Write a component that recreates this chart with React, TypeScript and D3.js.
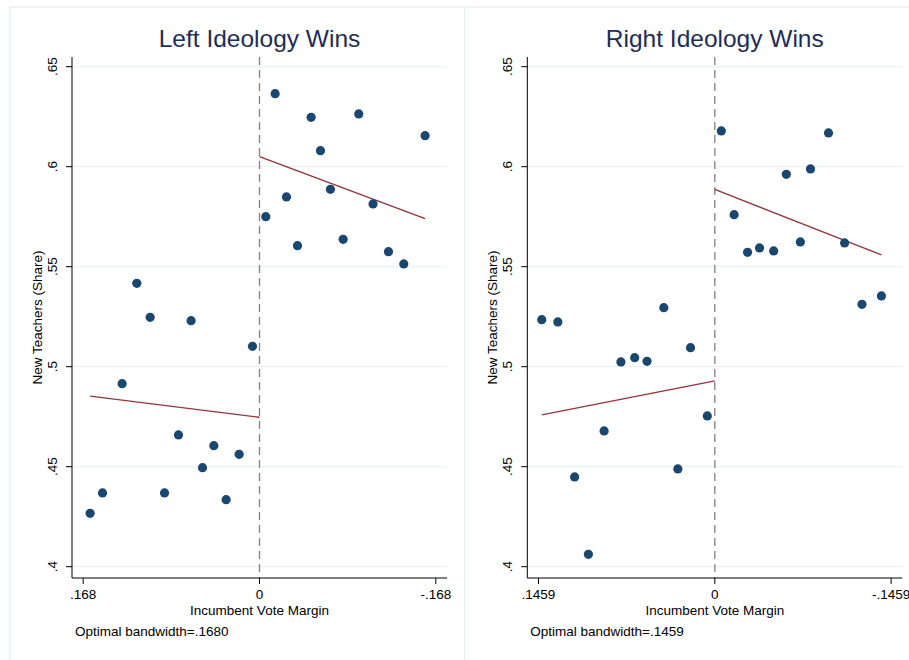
import React from "react";
import * as d3 from "d3";

// ---------- Data ----------
const yTicks = [0.4, 0.45, 0.5, 0.55, 0.6, 0.65];
const yTickLabels = [".4", ".45", ".5", ".55", ".6", ".65"];

const leftTitle = "Left Ideology Wins";
const leftBandwidth = 0.168;
const leftXTickLabels = [".168", "0", "-.168"];
const leftBandwidthNote = "Optimal bandwidth=.1680";
const leftX = [
  0.1614, 0.1496, 0.1309, 0.1169, 0.1042, 0.0905, 0.0772, 0.0652, 0.0543, 0.0435, 0.0318, 0.0194, 0.0067,
  -0.006, -0.0149, -0.0257, -0.0362, -0.0492, -0.0581, -0.0676, -0.0797, -0.0946, -0.1082, -0.1229, -0.1375, -0.1578,
];
const leftY = [
  0.4267, 0.4369, 0.4915, 0.5417, 0.5247, 0.4369, 0.4659, 0.523, 0.4495, 0.4605, 0.4335, 0.4562, 0.5102,
  0.575, 0.6365, 0.5849, 0.5605, 0.6247, 0.608, 0.5887, 0.5637, 0.6264, 0.5814, 0.5575, 0.5514, 0.6155,
];
const leftFitBelowX = [0.1614, 0];
const leftFitBelowY = [0.4853, 0.4747];
const leftFitAboveX = [0, -0.1578];
const leftFitAboveY = [0.605, 0.574];

const rightTitle = "Right Ideology Wins";
const rightBandwidth = 0.1459;
const rightXTickLabels = [".1459", "0", "-.1459"];
const rightBandwidthNote = "Optimal bandwidth=.1459";
const rightX = [
  0.1432, 0.1299, 0.116, 0.1046, 0.0916, 0.0777, 0.0663, 0.0561, 0.0422, 0.0306, 0.0201, 0.0062,
  -0.0054, -0.016, -0.0271, -0.037, -0.0487, -0.0592, -0.0708, -0.0792, -0.0941, -0.1074, -0.1218, -0.1379,
];
const rightY = [
  0.5235, 0.5224, 0.4449, 0.4062, 0.4679, 0.5024, 0.5045, 0.5027, 0.5295, 0.4489, 0.5095, 0.4754,
  0.6179, 0.576, 0.5572, 0.5594, 0.5579, 0.5962, 0.5624, 0.5989, 0.6169, 0.5619, 0.5312, 0.5354,
];
const rightFitBelowX = [0.1432, 0];
const rightFitBelowY = [0.4759, 0.4929];
const rightFitAboveX = [0, -0.1379];
const rightFitAboveY = [0.5887, 0.5559];

const yTitle = "New Teachers (Share)";
const xTitle = "Incumbent Vote Margin";

// ---------- Styles ----------
const FONT = "'Liberation Sans', Arial, sans-serif";
const TITLE_COLOR = "#1e2d55";
const DOT_COLOR = "#1a476f";
const LINE_COLOR = "#90353b";
const GRID_COLOR = "#eaf2f3";
const FRAME_COLOR = "#e4ecef";

type PanelProps = {
  offsetX: number;
  title: string;
  bw: number;
  xTickLabels: string[];
  note: string;
  xs: number[];
  ys: number[];
  fb: [number[], number[]];
  fa: [number[], number[]];
};

function Panel({ offsetX, title, bw, xTickLabels, note, xs, ys, fb, fa }: PanelProps) {
  const axL = 72, axR = 447, axTop = 57, axBot = 578;
  const tickPx = 176.3;
  const half = (bw * (axR - axL)) / 2 / tickPx;
  const x = d3.scaleLinear().domain([half, -half]).range([axL, axR]);
  const y = d3.scaleLinear().domain([0.4, 0.65]).range([566.7, 66.7]);
  const xTicks = [bw, 0, -bw];
  const line = d3
    .line<[number, number]>()
    .x((d) => x(d[0]))
    .y((d) => y(d[1]));
  const midX = (axL + axR) / 2;
  const midY = (axTop + axBot) / 2;
  return (
    <g transform={`translate(${offsetX},0)`} fontFamily={FONT}>
      <text x={x(0)} y={46.5} textAnchor="middle" fontSize={24.5} fill={TITLE_COLOR}>
        {title}
      </text>
      {yTicks.map((t, i) => (
        <g key={i}>
          <line x1={axL} x2={axR} y1={y(t)} y2={y(t)} stroke={GRID_COLOR} strokeWidth={1.2} />
          <line x1={axL - 6} x2={axL} y1={y(t)} y2={y(t)} stroke="#000" strokeWidth={1} />
          <text
            transform={`translate(${axL - 15},${y(t)}) rotate(-90)`}
            textAnchor="middle"
            fontSize={13.5}
            fill="#000"
          >
            {yTickLabels[i]}
          </text>
        </g>
      ))}
      <line
        x1={x(0)}
        x2={x(0)}
        y1={axTop}
        y2={axBot}
        stroke="#808080"
        strokeWidth={1.3}
        strokeDasharray="8,5"
      />
      <line x1={axL} x2={axL} y1={axTop} y2={axBot} stroke="#000" strokeWidth={1} />
      <line x1={axL} x2={axR} y1={axBot} y2={axBot} stroke="#000" strokeWidth={1} />
      {xTicks.map((t, i) => (
        <g key={i}>
          <line x1={x(t)} x2={x(t)} y1={axBot} y2={axBot + 6} stroke="#000" strokeWidth={1} />
          <text x={x(t)} y={599} textAnchor="middle" fontSize={13.5} fill="#000">
            {xTickLabels[i]}
          </text>
        </g>
      ))}
      <text x={midX} y={615} textAnchor="middle" fontSize={13.5} fill="#000">
        {xTitle}
      </text>
      <text x={axL + 3} y={636} fontSize={13.5} fill="#000">
        {note}
      </text>
      <text
        transform={`translate(${axL - 30},${midY}) rotate(-90)`}
        textAnchor="middle"
        fontSize={13.5}
        fill="#000"
      >
        {yTitle}
      </text>
      <path
        d={line(fb[0].map((v, i) => [v, fb[1][i]] as [number, number])) || ""}
        fill="none"
        stroke={LINE_COLOR}
        strokeWidth={1.4}
      />
      <path
        d={line(fa[0].map((v, i) => [v, fa[1][i]] as [number, number])) || ""}
        fill="none"
        stroke={LINE_COLOR}
        strokeWidth={1.4}
      />
      {xs.map((v, i) => (
        <circle key={i} cx={x(v)} cy={y(ys[i])} r={4.6} fill={DOT_COLOR} />
      ))}
    </g>
  );
}

export default function App() {
  return (
    <svg
      width={909}
      height={660}
      style={{ position: "absolute", left: 0, top: 0, background: "#fff" }}
    >
      <rect x={0} y={0} width={909} height={660} fill="#fff" />
      <line x1={10} x2={909} y1={7} y2={7} stroke={FRAME_COLOR} strokeWidth={1.2} />
      <line x1={10} x2={10} y1={7} y2={660} stroke={FRAME_COLOR} strokeWidth={1.2} />
      <line x1={464.5} x2={464.5} y1={7} y2={660} stroke={FRAME_COLOR} strokeWidth={1.2} />
      <Panel
        offsetX={0}
        title={leftTitle}
        bw={leftBandwidth}
        xTickLabels={leftXTickLabels}
        note={leftBandwidthNote}
        xs={leftX}
        ys={leftY}
        fb={[leftFitBelowX, leftFitBelowY]}
        fa={[leftFitAboveX, leftFitAboveY]}
      />
      <Panel
        offsetX={455.3}
        title={rightTitle}
        bw={rightBandwidth}
        xTickLabels={rightXTickLabels}
        note={rightBandwidthNote}
        xs={rightX}
        ys={rightY}
        fb={[rightFitBelowX, rightFitBelowY]}
        fa={[rightFitAboveX, rightFitAboveY]}
      />
    </svg>
  );
}
